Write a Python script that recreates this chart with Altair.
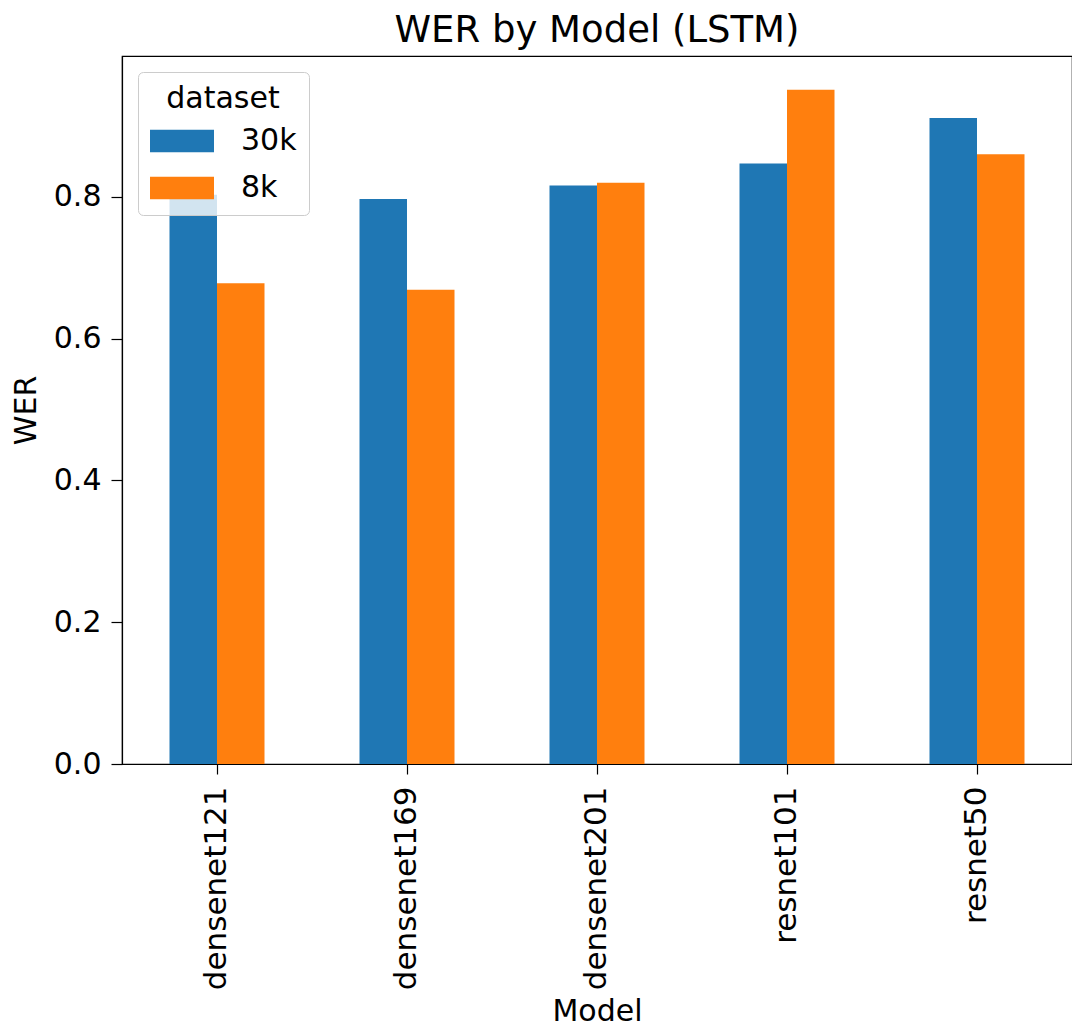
import altair as alt
import pandas as pd

models = ["densenet121", "densenet169", "densenet201", "resnet101", "resnet50"]
datasets = ["30k", "8k"]
wer_30k = [0.803, 0.797, 0.816, 0.847, 0.911]
wer_8k = [0.678, 0.669, 0.820, 0.951, 0.860]

rows = []
for m, a, b in zip(models, wer_30k, wer_8k):
    rows.append({"Model": m, "dataset": "30k", "WER": a})
    rows.append({"Model": m, "dataset": "8k", "WER": b})
df = pd.DataFrame(rows)

FONT = "DejaVu Sans"

chart = alt.Chart(df).mark_bar().encode(
    x=alt.X("Model:N", sort=models,
            scale=alt.Scale(paddingInner=0.5, paddingOuter=0.25),
            axis=alt.Axis(title="Model", labelAngle=-90, labelFontSize=31,
                          titleFontSize=30, tickSize=10, labelPadding=12,
                          titleY=256, titleBaseline="alphabetic",
                          labelColor="#000", titleColor="#000",
                          domainColor="#000", tickColor="#000", labelFont=FONT,
                          titleFont=FONT, titleFontWeight="normal",
                          labelBound=False, labelLimit=400)),
    xOffset=alt.XOffset("dataset:N", sort=datasets),
    y=alt.Y("WER:Q", scale=alt.Scale(domain=[0, 0.9986], nice=False, zero=True),
            axis=alt.Axis(title="WER", values=[0, 0.2, 0.4, 0.6, 0.8], format=".1f",
                          grid=False, labelFontSize=30, titleFontSize=30,
                          tickSize=11, labelPadding=10, titlePadding=12,
                          labelColor="#000", titleColor="#000", domainColor="#000",
                          tickColor="#000", labelFont=FONT, titleFont=FONT,
                          titleFontWeight="normal")),
    color=alt.Color("dataset:N", sort=datasets,
                    scale=alt.Scale(domain=datasets, range=["#1f77b4", "#ff7f0e"]),
                    legend=alt.Legend(
                        title="dataset", orient="none", legendX=16, legendY=16,
                        symbolType="M-1,-0.35H1V0.35H-1Z", symbolSize=4096,
                        symbolStrokeWidth=0, symbolOpacity=1,
                        labelFontSize=30, titleFontSize=30, labelFont=FONT,
                        titleFont=FONT, titleFontWeight="normal",
                        labelColor="#000", titleColor="#000",
                        titleAnchor="middle", labelOffset=27, rowPadding=-22,
                        titlePadding=-5, padding=12,
                        fillColor="rgba(255,255,255,0.8)", strokeColor="#cccccc",
                        cornerRadius=5)),
).properties(
    width=950,
    height=708,
    title=alt.TitleParams("WER by Model (LSTM)", fontSize=37, font=FONT,
                          fontWeight="normal", color="#000", anchor="middle",
                          offset=6),
    autosize=alt.AutoSizeParams(type="none"),
    padding={"left": 114, "top": 48, "right": 0, "bottom": 264},
).configure_view(
    stroke="#000", strokeWidth=1.2
).configure_axis(
    domainWidth=1.2, tickWidth=1.2
)

chart.save("out.html", embed_options={"renderer": "svg", "actions": False})
